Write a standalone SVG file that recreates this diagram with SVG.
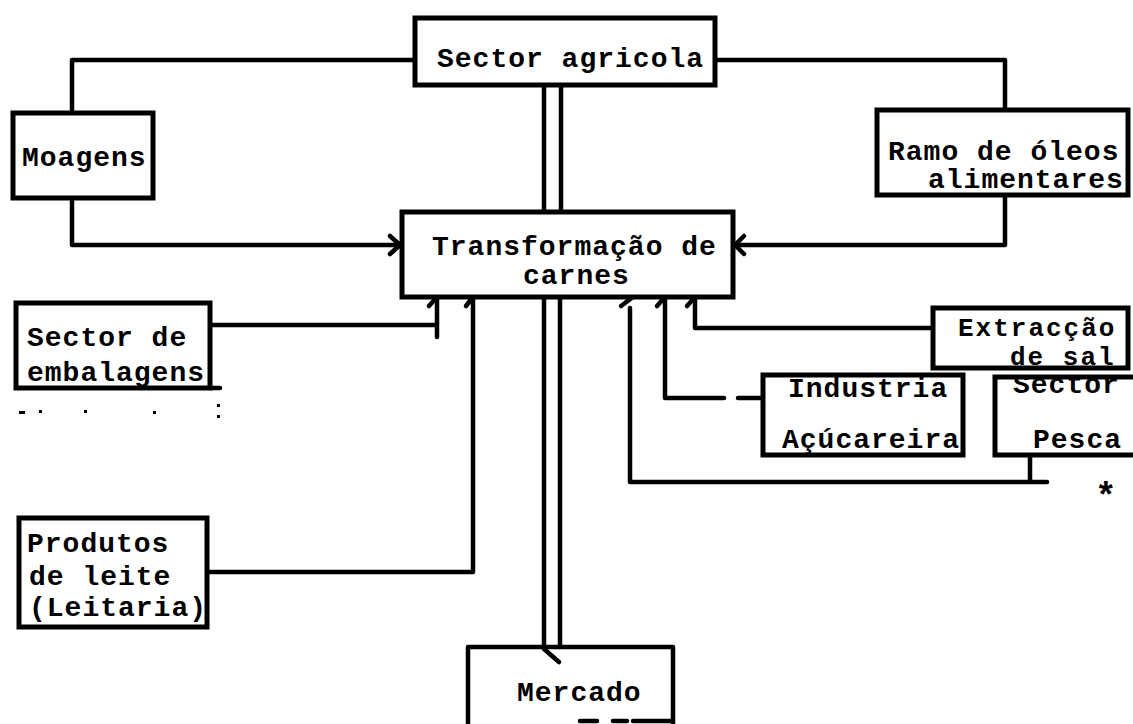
<svg xmlns="http://www.w3.org/2000/svg" width="1133" height="724" viewBox="0 0 1133 724">
<style>
.box{fill:#fff;stroke:#000;stroke-width:5}
.ln{fill:none;stroke:#000;stroke-width:4.5;stroke-linecap:round;stroke-linejoin:round}
.t{font-family:"Liberation Mono","DejaVu Sans Mono",monospace;font-weight:bold;font-size:28px;letter-spacing:1px;fill:#000}
.s{font-size:26px;letter-spacing:2px}
.speck{fill:#000}
</style>
<rect width="1133" height="724" fill="#fff"/>
<g id="connectors">
  <path class="ln" d="M415,60 H72 V113"/>
  <path class="ln" d="M72,115 L82,130"/>
  <path class="ln" d="M715,60 H1005 V110"/>
  <path class="ln" d="M1004,116 L1013,130"/>
  <path class="ln" d="M544,85 V212 M561,85 V212"/>
  <path class="ln" d="M544,214 L555,230"/>
  <path class="ln" d="M72,198 V245 H400"/>
  <path class="ln" d="M390,236 L400,245 L390,254"/>
  <path class="ln" d="M1005,195 V245 H735"/>
  <path class="ln" d="M744,236 L735,245 L744,254"/>
  <path class="ln" d="M544,297 V647 M560,297 V647"/>
  <path class="ln" d="M544,649 L559,662"/>
  <path class="ln" d="M210,325 H437 M437,337 V297"/>
  <path class="ln" d="M437,297 L429,306"/>
  <path class="ln" d="M207,572 H473 V297"/>
  <path class="ln" d="M473,297 L466,306"/>
  <path class="ln" d="M1030,455 V482 M1047,482 H630 V308"/>
  <path class="ln" d="M621,306 L637,294"/>
  <path class="ln" d="M763,398 H738 M724,398 H665 V297"/>
  <path class="ln" d="M665,297 L657,306"/>
  <path class="ln" d="M933,328 H695 V297"/>
  <path class="ln" d="M695,297 L687,306"/>
</g>
<g id="sector-agricola">
  <rect class="box" x="415" y="18" width="300" height="67"/>
  <text class="t" x="437" y="67">Sector agricola</text>
</g>
<g id="moagens">
  <rect class="box" x="13" y="113" width="140" height="85"/>
  <text class="t" x="22" y="166">Moagens</text>
</g>
<g id="ramo-oleos">
  <rect class="box" x="877" y="110" width="251" height="85"/>
  <text class="t" x="888" y="160">Ramo de óleos</text>
  <text class="t" x="928" y="188">alimentares</text>
</g>
<g id="transformacao">
  <rect class="box" x="402" y="212" width="331" height="85"/>
  <text class="t" x="432" y="255">Transformação de</text>
  <text class="t" x="523" y="284">carnes</text>
</g>
<g id="embalagens">
  <rect class="box" x="16" y="303" width="194" height="85"/>
  <path class="ln" d="M210,388 H220"/>
  <text class="t" x="27" y="346">Sector de</text>
  <text class="t" x="27" y="381">embalagens</text>
</g>
<g id="specks">
  <rect class="speck" x="19" y="411" width="6" height="3"/>
  <rect class="speck" x="39" y="410" width="3" height="3"/>
  <rect class="speck" x="84" y="410" width="3" height="3"/>
  <rect class="speck" x="153" y="411" width="3" height="3"/>
  <rect class="speck" x="217" y="404" width="3" height="3"/>
  <rect class="speck" x="217" y="415" width="3" height="3"/>
</g>
<g id="produtos-leite">
  <rect class="box" x="19" y="518" width="188" height="109"/>
  <text class="t" x="27" y="552">Produtos</text>
  <text class="t" x="29" y="585">de leite</text>
  <text class="t" x="29" y="616">(Leitaria)</text>
</g>
<g id="mercado">
  <path class="ln" d="M468,724 V647 H673 V724"/>
  <path class="ln" d="M580,721 H597 M613,721 H627 M633,721 H673"/>
  <text class="t" x="517" y="701">Mercado</text>
</g>
<g id="extraccao-sal">
  <rect class="box" x="933" y="308" width="195" height="60"/>
  <text class="t s" x="958" y="336">Extracção</text>
  <text class="t s" x="1010" y="365">de sal</text>
</g>
<g id="industria-acucareira">
  <rect class="box" x="763" y="375" width="200" height="80"/>
  <text class="t" x="788" y="397">Industria</text>
  <text class="t" x="782" y="448">Açúcareira</text>
</g>
<g id="sector-pesca">
  <path class="box" d="M1135,377 H995 V455 H1135"/>
  <text class="t" x="1013" y="393">Sector</text>
  <text class="t" x="1033" y="448">Pesca</text>
</g>
<text class="t" x="1095" y="508" style="font-size:36px">*</text>
</svg>
